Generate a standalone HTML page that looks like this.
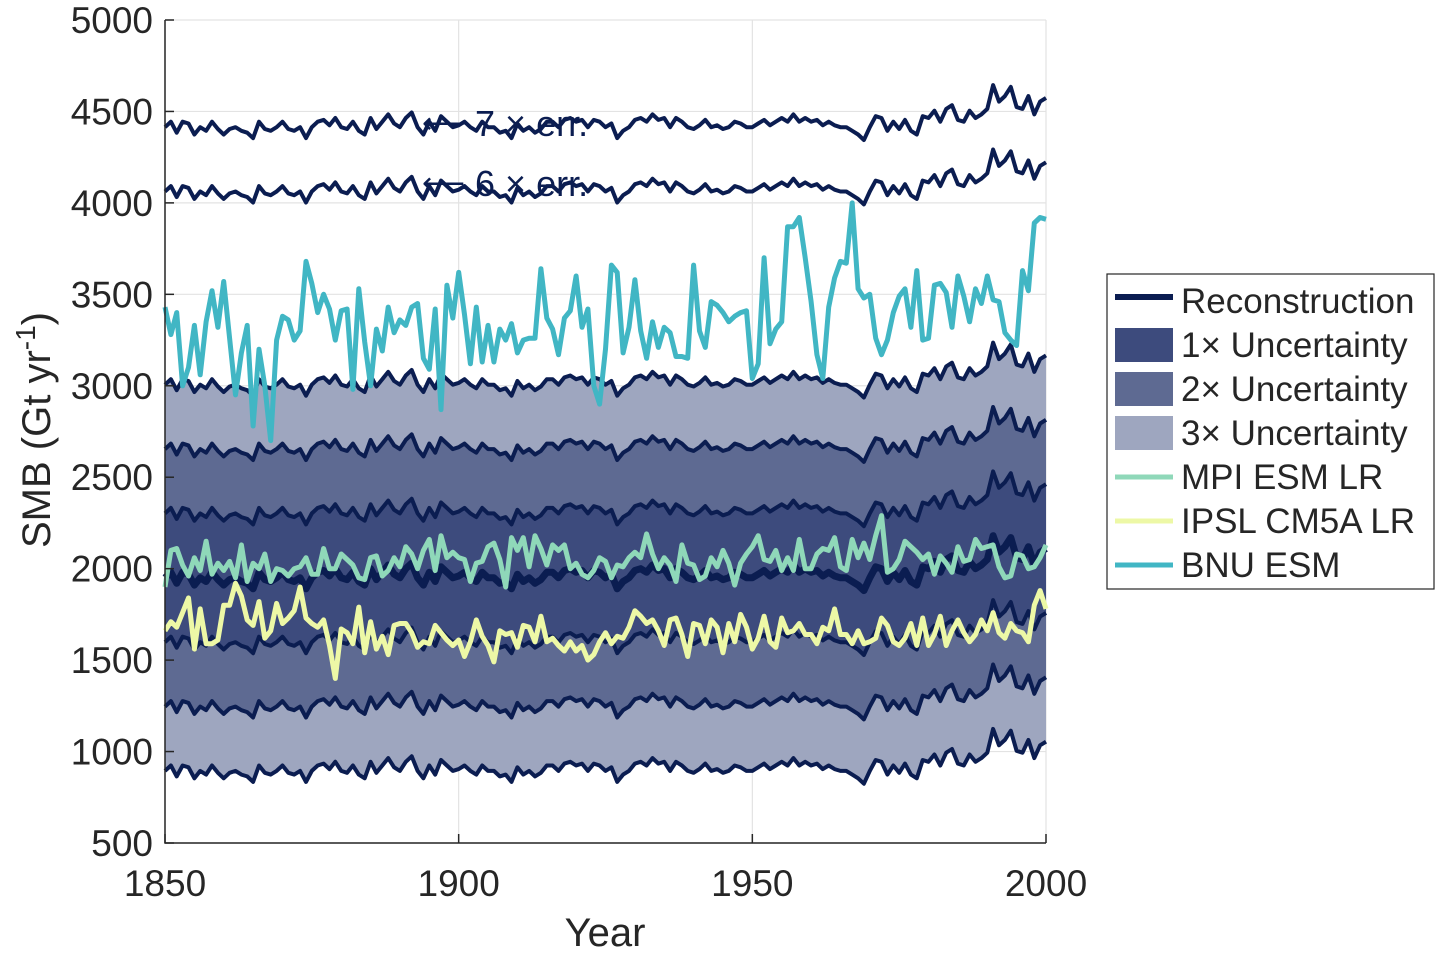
<!DOCTYPE html>
<html><head><meta charset="utf-8"><style>
body{margin:0;background:#fff;}
svg text{font-family:"Liberation Sans",Arial,sans-serif;fill:#262626;}
</style></head><body>
<svg id="chart" width="1440" height="952" xmlns="http://www.w3.org/2000/svg"></svg>
<script>
const yearStart = 1850;
const errValue = 352;
const recon = [1950,1980,1920,1980,1970,1910,1950,1930,1980,1940,
1910,1940,1950,1930,1920,1890,1980,1940,1930,1950,
1980,1940,1930,1950,1890,1950,1980,1990,1960,2000,
1950,1940,1980,1930,1910,2000,1940,1980,2020,1970,
1950,2000,2030,1950,1910,1980,1930,2010,1980,1950,
1960,1980,1950,1930,1980,1950,1950,1920,1930,1890,
1970,1930,1950,1920,1940,1980,1980,1950,1990,2000,
1980,1990,1950,1990,1980,1950,1970,1890,1930,1950,
1990,2000,1980,2020,1990,2000,1950,2000,1980,1950,
1940,1960,1990,1950,1960,1940,1950,1980,1970,1950,
1950,1970,1990,1960,1980,2000,1980,2020,1980,2000,
1980,1990,1960,1980,1960,1950,1950,1930,1910,1880,
1950,2010,2000,1930,1980,1940,1990,1930,1910,2010,
2000,2040,1980,2050,2070,1990,1980,2040,2000,2020,
2050,2180,2090,2120,2170,2060,2050,2120,2020,2090,2110];
const bnu = [3430,3280,3400,3000,3100,3330,3060,3350,3520,3320,
3570,3260,2950,3180,3330,2780,3200,3000,2700,3250,
3380,3360,3250,3300,3680,3560,3400,3500,3420,3250,
3410,3420,2980,3530,3240,3000,3310,3190,3430,3290,
3360,3330,3430,3450,3150,3090,3420,2870,3550,3370,
3620,3390,3120,3430,3130,3330,3130,3310,3250,3340,
3180,3250,3260,3260,3640,3370,3310,3170,3370,3410,
3600,3320,3420,3000,2900,3200,3660,3620,3180,3320,
3580,3300,3150,3350,3210,3320,3290,3160,3160,3150,
3660,3300,3210,3460,3440,3400,3350,3380,3400,3410,
3040,3120,3700,3230,3310,3350,3870,3870,3920,3700,
3460,3170,3040,3430,3590,3680,3670,4000,3530,3480,
3500,3260,3170,3250,3400,3490,3530,3320,3630,3250,
3260,3550,3560,3510,3320,3600,3490,3350,3530,3450,
3600,3470,3460,3290,3250,3220,3630,3520,3890,3920,3910];
const mpi = [1900,2100,2110,2020,1960,2060,1990,2150,1970,2030,
1990,2040,1950,2130,1930,2030,2000,2080,1930,2000,
1990,1960,2000,2010,2060,1970,1970,2110,2000,2000,
2080,2050,2020,1950,1940,2060,2070,1960,1990,2060,
2010,2120,2080,2000,2100,2160,1990,2180,2060,2090,
2060,2050,1930,2030,2040,2120,2140,2050,1900,2170,
2100,2170,2010,2180,2110,2020,2130,2100,2130,2000,
2030,1970,1950,1990,2060,2040,1950,2020,2010,2060,
2090,2060,2190,2080,2000,2060,2020,1930,2130,2030,
2020,1940,1960,2060,2010,2100,2030,1910,2030,2080,
2120,2180,2050,2040,2100,1990,2060,1990,2160,2000,
2000,2080,2110,2100,2170,2010,1990,2160,2060,2140,
2050,2180,2290,1980,2000,2050,2150,2120,2090,2050,
2080,1970,2070,2030,1980,2120,2040,2050,2160,2110,
2120,2130,2010,1950,1960,2080,2070,2000,2010,2060,2130];
const ipsl = [1660,1710,1680,1760,1840,1560,1780,1590,1590,1610,
1800,1800,1920,1850,1720,1690,1820,1620,1660,1810,
1700,1730,1770,1900,1730,1700,1680,1720,1580,1400,
1670,1650,1590,1790,1540,1710,1560,1630,1530,1690,
1700,1700,1650,1570,1600,1590,1690,1650,1610,1580,
1610,1520,1600,1720,1630,1580,1490,1660,1640,1650,
1570,1690,1680,1600,1740,1600,1620,1580,1550,1600,
1550,1580,1500,1530,1600,1650,1590,1630,1620,1680,
1770,1740,1700,1720,1660,1580,1720,1730,1640,1520,
1700,1690,1590,1720,1680,1540,1700,1600,1750,1680,
1560,1620,1740,1600,1570,1730,1650,1660,1700,1640,
1640,1590,1680,1660,1780,1640,1640,1590,1660,1590,
1600,1620,1730,1690,1600,1580,1620,1700,1580,1730,
1580,1640,1740,1580,1660,1720,1650,1600,1640,1720,
1660,1760,1650,1620,1700,1660,1650,1600,1800,1880,1780];
const yTicks = [500,1000,1500,2000,2500,3000,3500,4000,4500,5000];
const xTicks = [1850,1900,1950,2000];

const NS="http://www.w3.org/2000/svg";
const svg=document.getElementById('chart');
const L=165,R=1046,T=20,B=843;
const xs=y=>L+(y-1850)/150*(R-L);
const ys=v=>B-(v-500)/4500*(B-T);
function mk(tag,attrs,parent){const e=document.createElementNS(NS,tag);for(const k in attrs)e.setAttribute(k,attrs[k]);(parent||svg).appendChild(e);return e;}
function pts(arr){return arr.map((v,i)=>xs(yearStart+i).toFixed(1)+','+ys(v).toFixed(1));}
function band(k1,k2){const up=recon.map(v=>v+k2*errValue);const lo=recon.map(v=>v+k1*errValue);return 'M'+pts(up).join('L')+'L'+pts(lo).reverse().join('L')+'Z';}

yTicks.forEach(t=>{const g=mk('line',{x1:L,x2:R,y1:ys(t),y2:ys(t),stroke:'#e3e3e3','stroke-width':1.2});

});
xTicks.forEach(t=>{const g=mk('line',{x1:xs(t),x2:xs(t),y1:T,y2:B,stroke:'#e3e3e3','stroke-width':1.2});

});

const b3=mk('path',{d:band(-3,3),fill:'#9ea6bf'});


const b2=mk('path',{d:band(-2,2),fill:'#5e6a92'});


const b1=mk('path',{d:band(-1,1),fill:'#3d4b7d'});



[-3,-2,-1,1,2,3,6,7].forEach(k=>{const p=mk('polyline',{points:pts(recon.map(v=>v+k*errValue)).join(' '),fill:'none',stroke:'#0b1d51','stroke-width':4,'stroke-linejoin':'round'});

});
const rl=mk('polyline',{points:pts(recon).join(' '),fill:'none',stroke:'#0b1d51','stroke-width':7,'stroke-linejoin':'round'});


const ml=mk('polyline',{points:pts(mpi).join(' '),fill:'none',stroke:'#8fd8b9','stroke-width':5,'stroke-linejoin':'round'});


const il=mk('polyline',{points:pts(ipsl).join(' '),fill:'none',stroke:'#edf8a6','stroke-width':5,'stroke-linejoin':'round'});


const bl=mk('polyline',{points:pts(bnu).join(' '),fill:'none',stroke:'#41b6c4','stroke-width':5,'stroke-linejoin':'round'});



const ax=mk('path',{d:`M${L},${T}V${B}H${R}`,fill:'none',stroke:'#262626','stroke-width':1.5});


yTicks.forEach(t=>{mk('line',{x1:L,x2:L+9,y1:ys(t),y2:ys(t),stroke:'#262626','stroke-width':1.5});
const tx=mk('text',{x:153,y:ys(t)+13,'text-anchor':'end','font-size':37});tx.textContent=t;

});
xTicks.forEach(t=>{mk('line',{x1:xs(t),x2:xs(t),y1:B,y2:B-9,stroke:'#262626','stroke-width':1.5});
const tx=mk('text',{x:xs(t),y:896,'text-anchor':'middle','font-size':37});tx.textContent=t;

});
</script>
<svg width="1440" height="952" style="position:absolute;left:0;top:0" xmlns="http://www.w3.org/2000/svg">
<text x="605" y="946" text-anchor="middle" font-size="40">Year</text>
<text transform="translate(50,430) rotate(-90)" text-anchor="middle" font-size="40">SMB (Gt yr<tspan dy="-15" font-size="28">-1</tspan><tspan dy="15">)</tspan></text>
<text x="422" y="136" font-size="36" style="fill:#0b1d51"><tspan font-size="30" dy="-3">⟵</tspan><tspan dy="3"> 7 × err.</tspan></text>
<text x="422" y="196" font-size="36" style="fill:#0b1d51"><tspan font-size="30" dy="-3">⟵</tspan><tspan dy="3"> 6 × err.</tspan></text>
<g>
<rect x="1107" y="274" width="327" height="315" fill="#fff" stroke="#262626" stroke-width="1.2"/>
<line x1="1115" x2="1173" y1="297" y2="297" stroke="#0b1d51" stroke-width="6"/>
<text x="1181" y="313" font-size="35">Reconstruction</text>
<rect x="1115" y="328" width="58" height="34" fill="#3d4b7d"/>
<text x="1181" y="357" font-size="35">1× Uncertainty</text>
<rect x="1115" y="372" width="58" height="34" fill="#5e6a92"/>
<text x="1181" y="401" font-size="35">2× Uncertainty</text>
<rect x="1115" y="416" width="58" height="34" fill="#9ea6bf"/>
<text x="1181" y="445" font-size="35">3× Uncertainty</text>
<line x1="1115" x2="1173" y1="477" y2="477" stroke="#8fd8b9" stroke-width="5"/>
<text x="1181" y="489" font-size="35">MPI ESM LR</text>
<line x1="1115" x2="1173" y1="521" y2="521" stroke="#edf8a6" stroke-width="5"/>
<text x="1181" y="533" font-size="35">IPSL CM5A LR</text>
<line x1="1115" x2="1173" y1="565" y2="565" stroke="#41b6c4" stroke-width="5"/>
<text x="1181" y="577" font-size="35">BNU ESM</text>
</g>
</svg>
</body></html>
